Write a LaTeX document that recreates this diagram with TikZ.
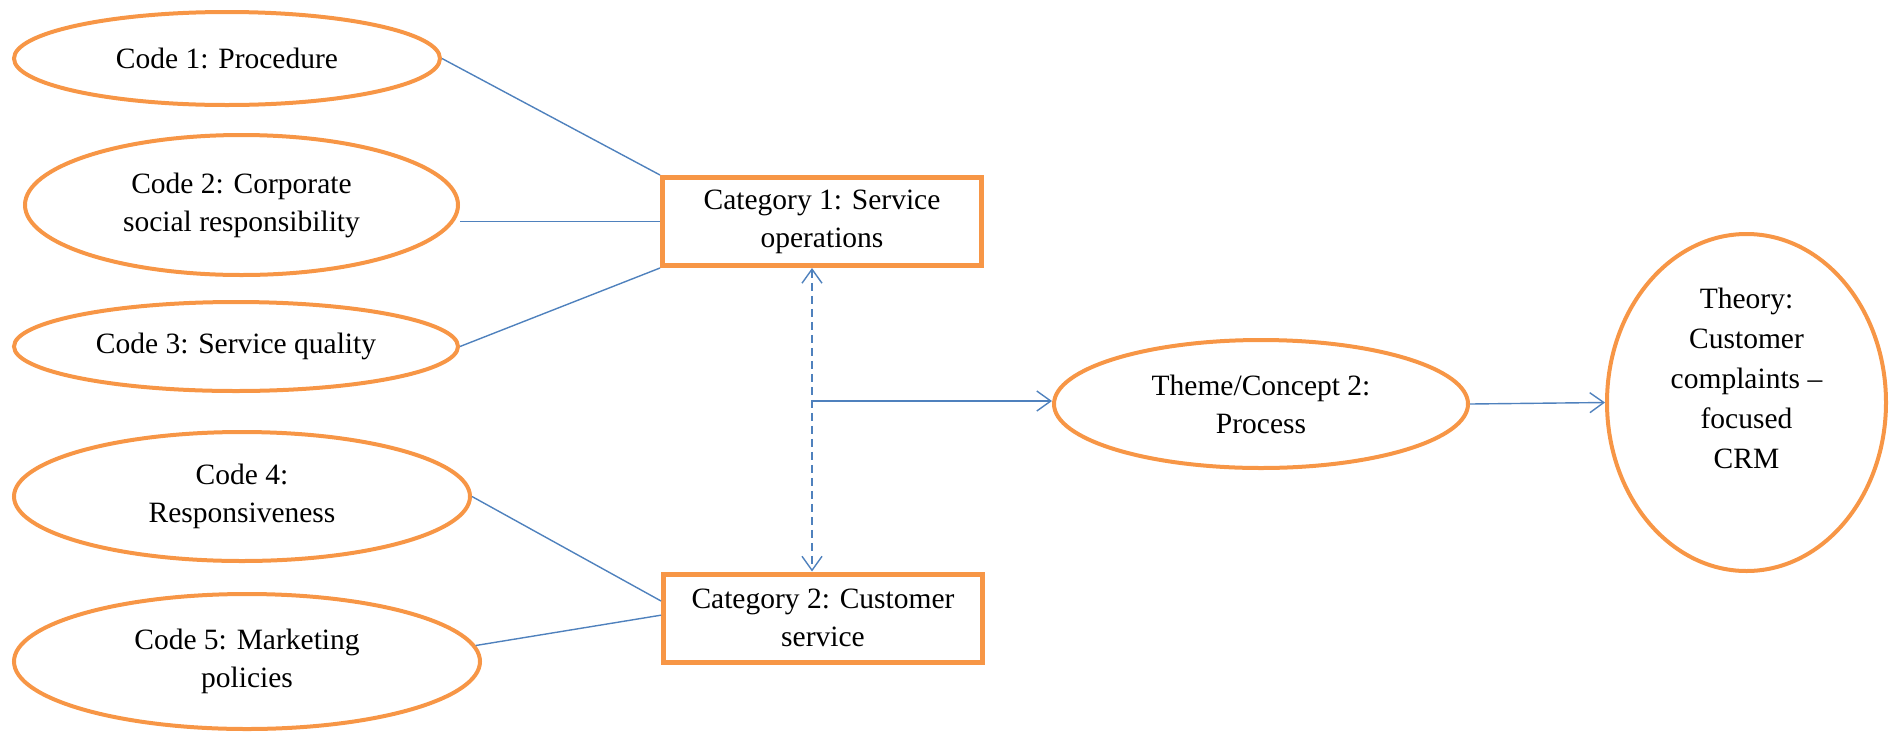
\documentclass[tikz,border=0pt]{standalone}
\usepackage{fontspec}
\setmainfont{Liberation Serif}
\usetikzlibrary{shapes.geometric,arrows.meta}
\definecolor{orng}{HTML}{F79646}
\definecolor{blu}{HTML}{4F81BD}
\begin{document}
\begin{tikzpicture}[x=1pt,y=-1pt,
  every node/.style={font=\fontsize{29.5}{38}\selectfont},
  oval/.style={ellipse, draw=orng, line width=4pt, inner sep=0pt, align=center},
  catbox/.style={rectangle, draw=orng, line width=5pt, minimum width=319pt, minimum height=88pt, inner sep=0pt, align=center},
  link/.style={draw=blu, line width=1.4pt},
  tip/.style={-{Straight Barb[length=14pt,width=20pt,line width=1.4pt]}},
  dtip/.style={{Straight Barb[length=14pt,width=20pt,line width=1.4pt]}-{Straight Barb[length=14pt,width=20pt,line width=1.4pt]}},
]
\useasboundingbox (0,0) rectangle (1896,732);
\node[oval, minimum width=426pt, minimum height=93pt] (e1) at (227,58.5) {Code 1: Procedure};
\node[oval, minimum width=433pt, minimum height=140pt] (e2) at (241.5,205) {Code 2: Corporate\\social responsibility};
\node[oval, minimum width=444pt, minimum height=89pt] (e3) at (236,346.5) {Code 3: Service quality};
\node[oval, minimum width=456pt, minimum height=129pt] (e4) at (242,496.5) {Code 4:\\Responsiveness};
\node[oval, minimum width=466pt, minimum height=135pt] (e5) at (247,661.5) {Code 5: Marketing\\policies};
\node[catbox] (b1) at (822,221.5) {Category 1: Service\\operations};
\node[catbox] (b2) at (823,618) {Category 2: Customer\\service};
\node[oval, minimum width=414pt, minimum height=128pt] (theme) at (1261,404) {Theme/Concept 2:\\Process};
\node[oval, minimum width=279pt, minimum height=337pt] (theory) at (1746.5,402.5) {};
\node[align=center, font=\fontsize{29.5}{40}\selectfont] (theorytext) at (1746.5,378) {Theory:\\Customer\\complaints --\\focused\\CRM};
\draw[link] (e1.east) -- (b1.north west);
\draw[link] (b1.west -| e2.east) -- (b1.west);
\draw[link] (e3.east) -- (b1.south west);
\draw[link] (e4.east) -- (b2.174);
\draw[link] (e5.4) -- (b2.179);
\coordinate (dx) at (812,401);
\draw[link, dash pattern=on 8pt off 5pt, dtip] (b1.south -| dx) -- (b2.north -| dx);
\draw[link, tip] (dx) -- (dx -| theme.west);
\draw[link, tip] (theme.east) -- (theory.west);
\end{tikzpicture}
\end{document}
